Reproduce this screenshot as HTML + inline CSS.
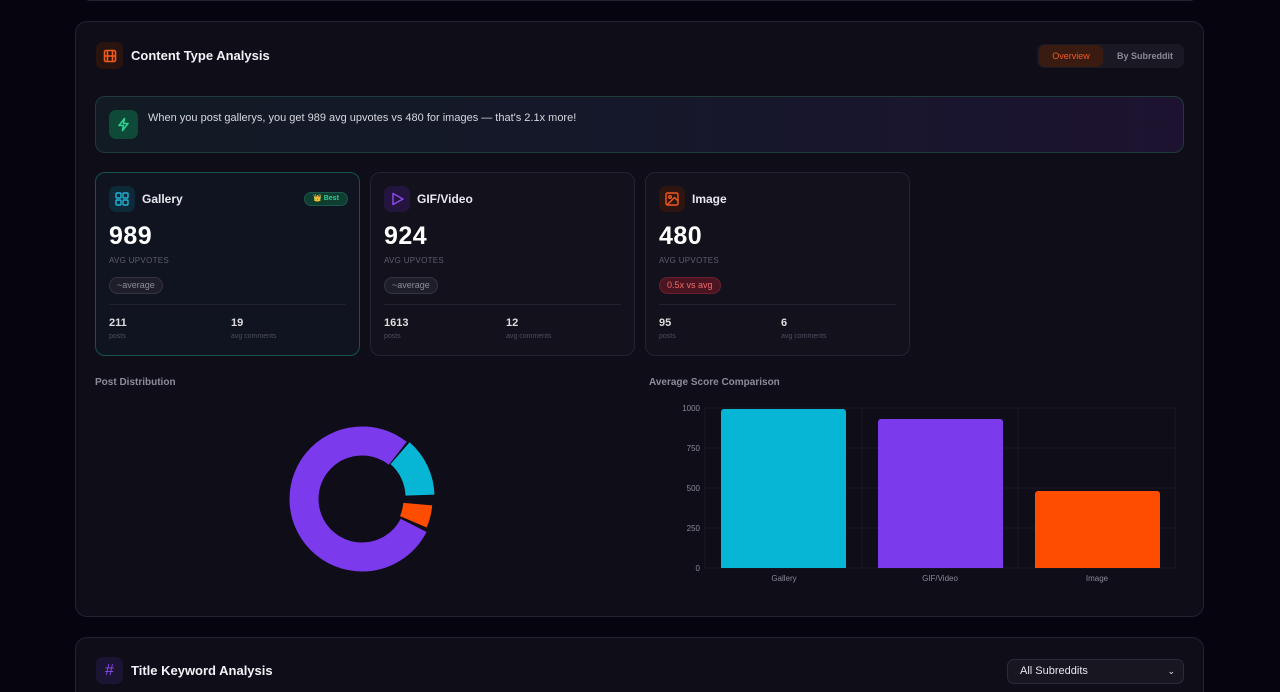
<!DOCTYPE html>
<html><head><meta charset="utf-8"><style>
*{box-sizing:border-box;margin:0;padding:0}
html,body{width:1280px;height:692px;overflow:hidden}
body{background:#05040f;font-family:"Liberation Sans",sans-serif;color:#e6e6ee;position:relative}
.abs{position:absolute}
.panel{position:absolute;background:#0e0d18;border:1px solid #23222f;border-radius:12px}
.card{position:absolute;top:172px;width:265px;height:184px;border-radius:10px;background:#12111c;border:1px solid #24232f}
.ic{position:absolute;left:13px;top:13px;width:26px;height:26px;border-radius:7px}
.name{position:absolute;left:46px;top:19px;font-size:12px;font-weight:bold;color:#e8e8f0}
.big{position:absolute;left:13px;top:49px;font-size:25px;font-weight:900;color:#fff;letter-spacing:.5px}
.lbl{position:absolute;left:13px;top:83px;font-size:8px;color:#5e5d6e;letter-spacing:.3px}
.pill{position:absolute;left:13px;top:104px;height:17px;border-radius:9px;font-size:9px;line-height:15px;padding:0 7px}
.hr{position:absolute;left:13px;right:13px;top:131px;border-top:1px solid #22212d}
.n{position:absolute;top:144px;font-size:11px;font-weight:bold;color:#ddd}
.s{position:absolute;top:160px;font-size:7px;color:#4f4e5e}
</style></head><body>
<div class="panel" style="left:80px;top:-20px;width:1120px;height:21px;background:#0b0a14"></div>
<div class="panel" style="left:75px;top:21px;width:1129px;height:596px"></div>
<div class="abs" style="left:96px;top:42px;width:27px;height:27px;border-radius:7px;background:#2a1410"></div>
<svg class="abs" style="left:103px;top:49px" width="14" height="14" viewBox="0 0 14 14" fill="none" stroke="#f05a1e" stroke-width="1.6"><rect x="1.5" y="1.5" width="11" height="11" rx="1.5"/><line x1="4.5" y1="1.5" x2="4.5" y2="12.5"/><line x1="9.5" y1="1.5" x2="9.5" y2="12.5"/><line x1="1.5" y1="7" x2="12.5" y2="7"/></svg>
<div class="abs" style="left:131px;top:48px;font-size:13px;font-weight:bold;color:#f2f2f6">Content Type Analysis</div>
<div class="abs" style="left:1037px;top:44px;width:147px;height:24px;border-radius:7px;background:#191823"></div>
<div class="abs" style="left:1039px;top:45px;width:64px;height:22px;border-radius:6px;background:#3a1b12;color:#ee5a20;font-size:9px;line-height:22px;text-align:center">Overview</div>
<div class="abs" style="left:1106px;top:45px;width:78px;height:22px;color:#8a8996;font-size:9px;line-height:22px;text-align:center;font-weight:bold">By Subreddit</div>
<div class="abs" style="left:95px;top:96px;width:1089px;height:57px;border-radius:10px;border:1px solid #1f3a3a;background:linear-gradient(90deg,#121a24,#15182a 50%,#1d1330)"></div>
<div class="abs" style="left:109px;top:110px;width:29px;height:29px;border-radius:7px;background:#0f4a38"></div>
<svg class="abs" style="left:116px;top:117px" width="15" height="15" viewBox="0 0 15 15" fill="none" stroke="#2ed18f" stroke-width="1.6" stroke-linejoin="round"><path d="M8.5 1.5 3 8.5h4.5l-1 5 5.5-7H7.5z"/></svg>
<div class="abs" style="left:148px;top:112px;font-size:11px;color:#d6d6de">When you post gallerys, you get 989 avg upvotes vs 480 for images — that's 2.1x more!</div>

<div class="card" style="left:95px;border-color:#17514c;background:#0f1420">
 <div class="ic" style="background:#0e2a38"></div>
 <svg class="abs" style="left:19px;top:19px" width="14" height="14" viewBox="0 0 14 14" fill="none" stroke="#22b0d4" stroke-width="1.4"><rect x="1" y="1" width="5" height="5" rx="1"/><rect x="8" y="1" width="5" height="5" rx="1"/><rect x="1" y="8" width="5" height="5" rx="1"/><rect x="8" y="8" width="5" height="5" rx="1"/></svg>
 <div class="name">Gallery</div>
 <div class="abs" style="left:208px;top:19px;width:44px;height:14px;border-radius:7px;background:#0f3d30;border:1px solid #19584a;font-size:7px;color:#2ed18f;line-height:12px;text-align:center;font-weight:bold">👑 Best</div>
 <div class="big">989</div><div class="lbl">AVG UPVOTES</div>
 <div class="pill" style="background:#1e1e2a;border:1px solid #34343f;color:#8c8c98">~average</div>
 <div class="hr"></div>
 <div class="n" style="left:13px">211</div><div class="s" style="left:13px">posts</div>
 <div class="n" style="left:135px">19</div><div class="s" style="left:135px">avg comments</div>
</div>
<div class="card" style="left:370px">
 <div class="ic" style="background:#24153f"></div>
 <svg class="abs" style="left:20px;top:19px" width="14" height="14" viewBox="0 0 14 14" fill="none" stroke="#8b48ee" stroke-width="1.5" stroke-linejoin="round"><path d="M2 1.5v11l10-5.5z"/></svg>
 <div class="name">GIF/Video</div>
 <div class="big">924</div><div class="lbl">AVG UPVOTES</div>
 <div class="pill" style="background:#1e1e2a;border:1px solid #34343f;color:#8c8c98">~average</div>
 <div class="hr"></div>
 <div class="n" style="left:13px">1613</div><div class="s" style="left:13px">posts</div>
 <div class="n" style="left:135px">12</div><div class="s" style="left:135px">avg comments</div>
</div>
<div class="card" style="left:645px">
 <div class="ic" style="background:#2e1510"></div>
 <svg class="abs" style="left:19px;top:19px" width="14" height="14" viewBox="0 0 14 14" fill="none" stroke="#f05a1e" stroke-width="1.4"><rect x="1" y="1" width="12" height="12" rx="1.5"/><circle cx="5" cy="5" r="1.3"/><path d="M13 9 9.5 5.5 2 13"/></svg>
 <div class="name">Image</div>
 <div class="big">480</div><div class="lbl">AVG UPVOTES</div>
 <div class="pill" style="background:#4a1520;border:1px solid #6a2030;color:#f06a6a">0.5x vs avg</div>
 <div class="hr"></div>
 <div class="n" style="left:13px">95</div><div class="s" style="left:13px">posts</div>
 <div class="n" style="left:135px">6</div><div class="s" style="left:135px">avg comments</div>
</div>

<div class="abs" style="left:95px;top:377px;font-size:10px;font-weight:bold;color:#8d8c99">Post Distribution</div>
<svg class="abs" style="left:282px;top:419px" width="160" height="160" viewBox="0 0 160 160">
 <g transform="rotate(-90 80 80)" fill="none" stroke-width="29">
  <circle cx="80" cy="80" r="58" stroke="#7c3aed" stroke-dasharray="245.8 364.4" stroke-dashoffset="-118.4"/>
  <circle cx="80" cy="80" r="58" stroke="#7c3aed" stroke-dasharray="38.5 364.4" stroke-dashoffset="0"/>
  <circle cx="82" cy="80" r="58" stroke="#06b6d4" stroke-dasharray="47.6 364.4" stroke-dashoffset="-41.5"/>
  <circle cx="80" cy="78" r="58" stroke="#ff4d00" stroke-dasharray="18.2 364.4" stroke-dashoffset="-96.2"/>
 </g>
</svg>

<div class="abs" style="left:649px;top:377px;font-size:10px;font-weight:bold;color:#8d8c99">Average Score Comparison</div>
<svg class="abs" style="left:640px;top:395px" width="560" height="200">
 <g stroke="#1a1924" stroke-width="1">
  <line x1="65" x2="535" y1="13" y2="13"/>
  <line x1="65" x2="535" y1="53" y2="53"/><line x1="65" x2="535" y1="93" y2="93"/><line x1="65" x2="535" y1="133" y2="133"/><line x1="65" x2="535" y1="173" y2="173"/>
  <line x1="65" x2="65" y1="13" y2="173"/><line x1="222" x2="222" y1="13" y2="173"/><line x1="378" x2="378" y1="13" y2="173"/><line x1="535" x2="535" y1="13" y2="173"/>
 </g>
 <g fill="#8a8996" font-size="8" font-family="Liberation Sans" text-anchor="end">
  <text x="60" y="16">1000</text><text x="60" y="56">750</text><text x="60" y="96">500</text><text x="60" y="136">250</text><text x="60" y="176">0</text>
 </g>
 <path d="M81 173V17a3 3 0 0 1 3-3h119a3 3 0 0 1 3 3v156z" fill="#06b6d4"/>
 <path d="M238 173V27a3 3 0 0 1 3-3h119a3 3 0 0 1 3 3v146z" fill="#7c3aed"/>
 <path d="M395 173V99a3 3 0 0 1 3-3h119a3 3 0 0 1 3 3v74z" fill="#ff4d00"/>
 <g fill="#8a8996" font-size="8" font-family="Liberation Sans" text-anchor="middle">
  <text x="144" y="186">Gallery</text><text x="300" y="186">GIF/Video</text><text x="457" y="186">Image</text>
 </g>
</svg>

<div class="panel" style="left:75px;top:637px;width:1129px;height:70px"></div>
<div class="abs" style="left:96px;top:657px;width:27px;height:27px;border-radius:7px;background:#1c1433;color:#8b48ee;font-size:16px;line-height:27px;text-align:center">#</div>
<div class="abs" style="left:131px;top:663px;font-size:13px;font-weight:bold;color:#f2f2f6">Title Keyword Analysis</div>
<div class="abs" style="left:1007px;top:659px;width:177px;height:25px;border-radius:7px;background:#171621;border:1px solid #2c2b38;font-size:11px;color:#e6e6ee;line-height:23px;padding-left:12px">All Subreddits<span style="position:absolute;right:8px;top:0;font-size:9px">&#x2304;</span></div>
</body></html>
